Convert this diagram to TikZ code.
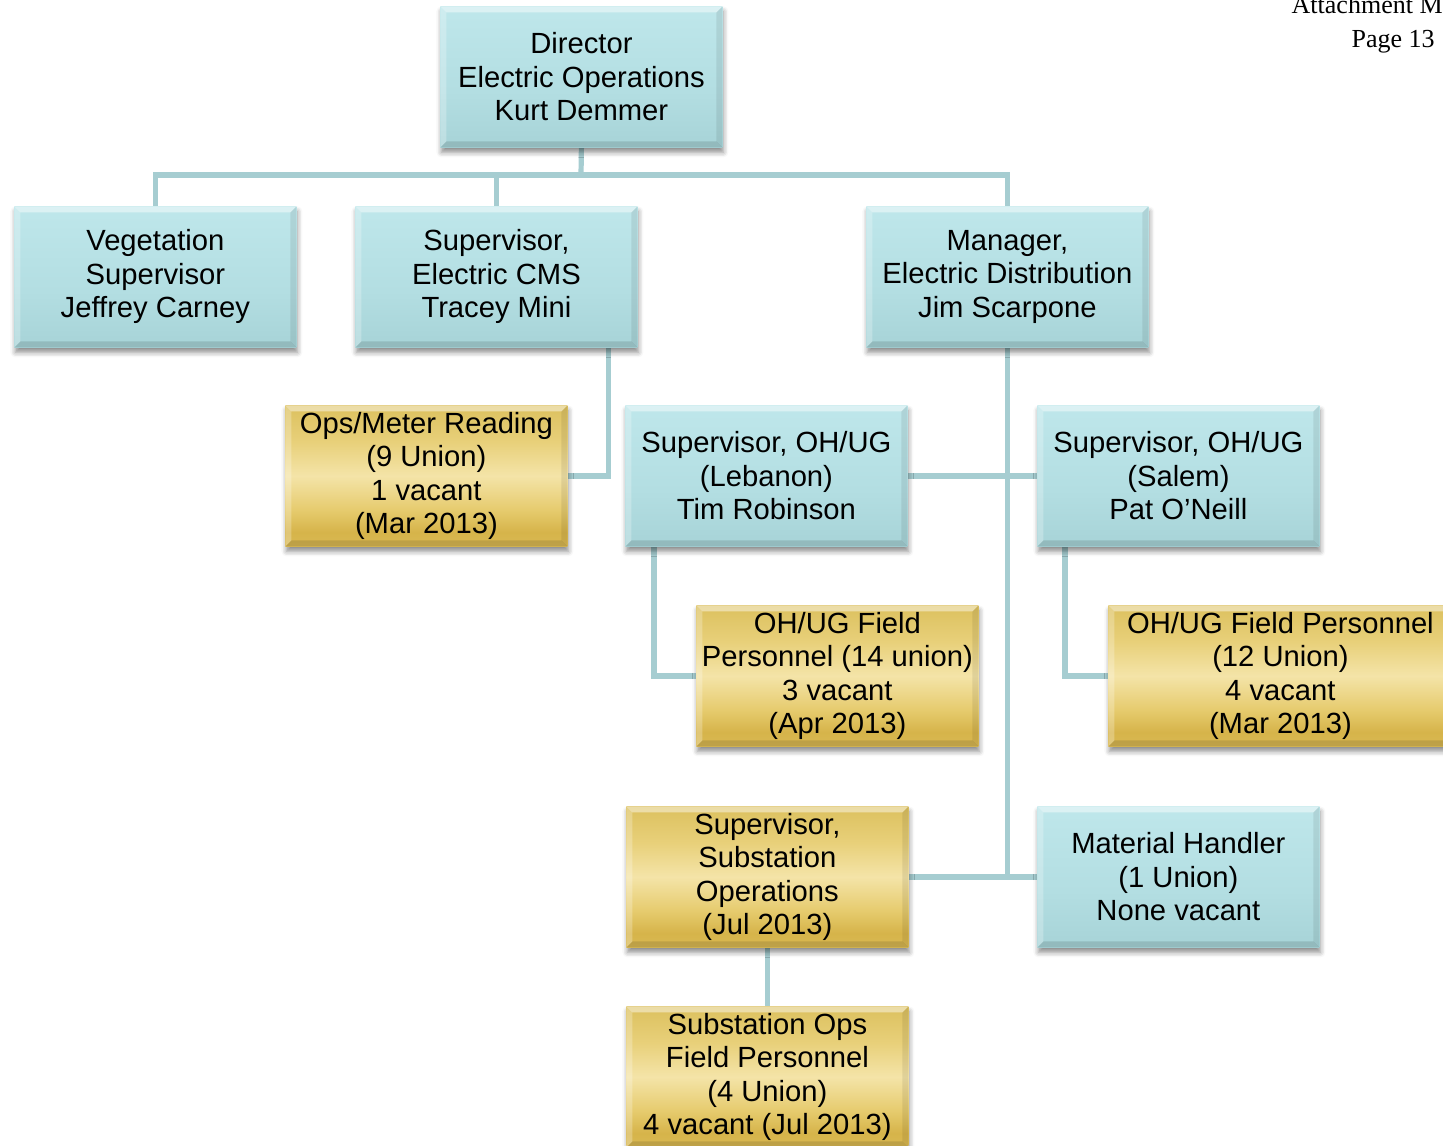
\documentclass[tikz,border=0pt]{standalone}
\usepackage{fontspec}
\setmainfont{Liberation Sans}
\newfontfamily\headserif{Liberation Serif}
\usetikzlibrary{shadows.blur,backgrounds}

% box fills
\definecolor{tealTop}{HTML}{C8EEF2}
\definecolor{tealMid}{HTML}{B3DEE2}
\definecolor{tealBot}{HTML}{98C6CA}
\definecolor{goldA}{HTML}{F1E6B5}
\definecolor{goldB}{HTML}{E4CF82}
\definecolor{goldC}{HTML}{D9BD58}
\definecolor{goldD}{HTML}{E8D07A}
\definecolor{goldE}{HTML}{F4E4A8}
\definecolor{goldF}{HTML}{E6CB6E}
\definecolor{goldG}{HTML}{D6B44A}
\definecolor{goldH}{HTML}{E0C366}
\definecolor{goldI}{HTML}{ECD78E}
\definecolor{linkc}{HTML}{A6CDD1}

\pgfdeclareverticalshading{tealgrad}{100bp}{color(0bp)=(tealBot); color(45bp)=(tealMid); color(100bp)=(tealTop)}
\pgfdeclareverticalshading{goldgrad}{100bp}{color(0bp)=(goldI); color(15bp)=(goldH); color(30bp)=(goldG); color(38bp)=(goldF); color(50bp)=(goldE); color(62bp)=(goldD); color(78bp)=(goldC); color(88bp)=(goldB); color(100bp)=(goldA)}

\tikzset{
  bevel/.style={path picture={
    \fill[white,opacity=0.45] (path picture bounding box.north west) -- (path picture bounding box.north east)
      -- ([xshift=-3pt,yshift=-3pt]path picture bounding box.north east) -- ([xshift=3pt,yshift=-3pt]path picture bounding box.north west) -- cycle;
    \fill[white,opacity=0.25] (path picture bounding box.north west) -- ([xshift=3pt,yshift=-3pt]path picture bounding box.north west)
      -- ([xshift=3pt,yshift=3pt]path picture bounding box.south west) -- (path picture bounding box.south west) -- cycle;
    \fill[black,opacity=0.12] (path picture bounding box.south west) -- ([xshift=3pt,yshift=3pt]path picture bounding box.south west)
      -- ([xshift=-3pt,yshift=3pt]path picture bounding box.south east) -- (path picture bounding box.south east) -- cycle;
    \fill[black,opacity=0.08] (path picture bounding box.south east) -- ([xshift=-3pt,yshift=3pt]path picture bounding box.south east)
      -- ([xshift=-3pt,yshift=-3pt]path picture bounding box.north east) -- (path picture bounding box.north east) -- cycle;
  }},
  box/.style={rectangle, anchor=north west, minimum width=141pt, minimum height=70.5pt,
    inner sep=0pt, align=center, font=\fontsize{14.6}{16.75}\selectfont,
    blur shadow={shadow xshift=0.5pt, shadow yshift=-2.5pt, shadow blur radius=2.5pt, shadow opacity=45},
    bevel},
  tealbox/.style={box, shading=tealgrad},
  goldbox/.style={box, shading=goldgrad},
  link/.style={draw=linkc, line width=2.6pt},
  headtext/.style={anchor=east, inner sep=0pt, font=\headserif\fontsize{13}{15}\selectfont}
}

\begin{document}
\begin{tikzpicture}[x=0.5pt,y=-0.5pt]
\useasboundingbox (0,0) rectangle (1443,1145);

% page header
\node[headtext, anchor=base east] (att) at (1443,14) {Attachment M};
\node[headtext, anchor=base east] (pg) at (1435,48) {Page 13};

% boxes
\node[tealbox] (dir) at (440,6)   {Director\\Electric Operations\\Kurt Demmer};
\node[tealbox] (veg) at (14,206)  {Vegetation\\Supervisor\\Jeffrey Carney};
\node[tealbox] (cms) at (355,206) {Supervisor,\\Electric CMS\\Tracey Mini};
\node[tealbox] (mgr) at (866,206) {Manager,\\Electric Distribution\\Jim Scarpone};
\node[goldbox] (ops) at (285,405) {Ops/Meter Reading\\(9 Union)\\1 vacant\\(Mar 2013)};
\node[tealbox] (leb) at (625,405) {Supervisor, OH/UG\\(Lebanon)\\Tim Robinson};
\node[tealbox] (sal) at (1037,405) {Supervisor, OH/UG\\(Salem)\\Pat O’Neill};
\node[goldbox] (f14) at (696,605) {OH/UG Field\\Personnel (14 union)\\3 vacant\\(Apr 2013)};
\node[goldbox, minimum width=172pt] (f12) at (1108,605) {OH/UG Field Personnel\\(12 Union)\\4 vacant\\(Mar 2013)};
\node[goldbox] (sso) at (626,806) {Supervisor,\\Substation\\Operations\\(Jul 2013)};
\node[tealbox] (mh)  at (1037,806) {Material Handler\\(1 Union)\\None vacant};
\node[goldbox] (sof) at (626,1006) {Substation Ops\\Field Personnel\\(4 Union)\\4 vacant (Jul 2013)};

% reporting lines
\begin{scope}[on background layer]
  \coordinate (bus) at (581,175);
  \draw[link] (dir.south) -- (bus);
  \draw[link] (veg.north) |- (bus);
  \draw[link] (mgr.north) |- (bus);
  \draw[link] (cms.north) -- (cms.north |- bus);
  \draw[link] ([xshift=-14.5pt]cms.south east) |- (ops.east);
  \draw[link] (mgr.south) -- (mgr.south |- mh.west);
  \draw[link] (leb.east) -- (sal.west);
  \draw[link] (sso.east) -- (mh.west);
  \draw[link] ([xshift=14.5pt]leb.south west) |- (f14.west);
  \draw[link] ([xshift=14pt]sal.south west) |- (f12.west);
  \draw[link] (sso.south) -- (sof.north);
\end{scope}
\end{tikzpicture}
\end{document}
